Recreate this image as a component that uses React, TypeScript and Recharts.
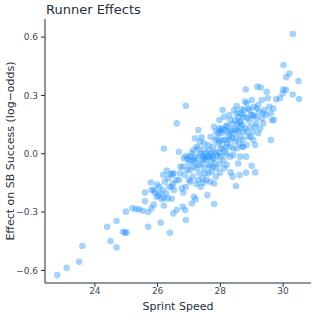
import { Label, Scatter, ScatterChart, XAxis, YAxis } from 'recharts';

// [sprint speed (ft/s), effect on SB success (log-odds)]
const SLOW_RUNNERS: Array<[number, number]> = [
  [22.8, -0.624], [23.1, -0.587], [23.5, -0.556], [23.6, -0.475], [24.39, -0.376], [24.5, -0.449],
  [24.69, -0.346], [24.69, -0.482], [24.9, -0.401], [24.96, -0.406], [25.01, -0.406], [24.99, -0.298],
  [25.2, -0.28], [25.31, -0.286], [25.41, -0.286], [25.52, -0.293], [25.7, -0.376], [25.7, -0.3],
  [25.6, -0.2], [25.6, -0.245], [25.79, -0.148], [25.81, -0.281], [25.88, -0.261], [25.81, -0.187],
  [25.91, -0.199], [25.99, -0.158], [26.02, -0.216], [26.1, -0.355], [26.13, -0.233], [26.2, -0.226],
  [26.2, 0.027], [26.18, -0.11], [26.2, -0.266], [26.29, -0.087], [26.32, -0.23], [26.39, -0.407],
  [26.41, -0.105], [26.45, -0.17], [26.45, -0.232], [26.48, -0.105], [25.97, -0.221], [26.07, -0.204],
  [26.16, -0.187], [26.23, -0.144], [26.34, -0.127], [26.37, -0.17], [26.27, -0.204], [26.05, -0.17],
  [25.88, -0.187],
];

const MID_RUNNERS: Array<[number, number]> = [
  [26.5, -0.307], [26.5, -0.153], [26.52, -0.187], [26.61, -0.29], [26.61, 0.156], [26.68, 0.01],
  [26.68, -0.135], [26.73, -0.067], [26.77, -0.178], [26.8, -0.273], [26.82, -0.201], [26.84, -0.024],
  [26.87, -0.11], [26.88, -0.29], [26.9, -0.341], [26.9, 0.247], [26.9, -0.17], [26.95, -0.081],
  [26.98, -0.05], [27.0, -0.135], [27.03, -0.015], [27.05, -0.144], [27.09, -0.256], [27.12, -0.118],
  [27.14, -0.067], [27.16, -0.221], [27.19, 0.079], [27.19, -0.015], [27.21, -0.235], [27.24, -0.156],
  [27.27, -0.024], [27.3, 0.122], [27.3, 0.027], [27.33, -0.101], [27.35, 0.002], [27.37, -0.17],
  [27.4, -0.05], [27.4, 0.084], [27.44, -0.127], [27.46, -0.015], [27.48, -0.075], [27.51, -0.024],
  [27.54, 0.002], [27.56, -0.135], [27.59, -0.213], [27.62, -0.058], [27.62, 0.045], [27.65, 0.019],
  [27.67, -0.067], [27.69, 0.087], [27.69, 0.002], [27.72, -0.093], [27.76, 0.036], [27.78, -0.024],
  [27.8, 0.139], [27.8, -0.153], [27.8, -0.259], [27.83, 0.07], [27.83, -0.05], [27.86, 0.002],
  [27.88, -0.075], [27.94, 0.053], [27.97, 0.13], [27.99, -0.098], [27.99, 0.002],
  [26.9, -0.012], [26.95, -0.024], [27.05, -0.033], [27.19, -0.046], [27.24, -0.075], [27.33, -0.058],
  [27.44, -0.029], [27.51, -0.101], [27.62, -0.101], [27.67, -0.144], [27.46, -0.149], [27.3, -0.136],
  [27.03, -0.084], [26.8, -0.067], [26.71, -0.101], [26.59, -0.136], [26.5, -0.101],
  [27.4, -0.002], [27.48, 0.022], [27.54, -0.033], [27.59, -0.012], [27.73, -0.012], [27.83, 0.01],
  [27.9, -0.015], [27.94, 0.105], [27.97, 0.173], [27.99, -0.05], [27.86, -0.118], [27.78, -0.067],
  [27.72, -0.033], [27.65, -0.015], [27.48, 0.053], [27.35, 0.062], [27.24, 0.036], [27.14, 0.019],
  [27.09, 0.002], [27.14, -0.033], [27.86, 0.113], [27.9, 0.079], [27.99, 0.062],
];

const FAST_RUNNERS: Array<[number, number]> = [
  [28.01, 0.027], [28.04, 0.105], [28.07, 0.225], [28.1, -0.033], [28.12, 0.19], [28.15, 0.07],
  [28.18, 0.036], [28.2, -0.002], [28.22, 0.142], [28.26, 0.087], [28.29, 0.199], [28.31, 0.036],
  [28.33, -0.096], [28.36, 0.122], [28.39, -0.118], [28.41, -0.007], [28.44, 0.225], [28.47, 0.173],
  [28.5, 0.079], [28.5, -0.166], [28.52, 0.245], [28.54, 0.122], [28.57, -0.05], [28.61, 0.165],
  [28.61, -0.11], [28.63, 0.208], [28.65, 0.087], [28.68, 0.036], [28.71, 0.148], [28.73, 0.113],
  [28.77, 0.19], [28.79, 0.268], [28.81, 0.331], [28.82, -0.098], [28.84, 0.045], [28.86, 0.182],
  [28.89, 0.087], [28.93, 0.225], [28.95, 0.139],
  [28.01, -0.015], [28.04, 0.13], [28.12, 0.122], [28.18, 0.142], [28.22, 0.113], [28.29, 0.07],
  [28.36, 0.084], [28.41, 0.101], [28.52, 0.208], [28.54, 0.153], [28.57, 0.187], [28.65, 0.165],
  [28.71, 0.199], [28.76, 0.225], [28.84, 0.259], [28.89, 0.233], [28.97, 0.199],
  [28.01, 0.118], [28.07, 0.07], [28.31, 0.173], [28.39, 0.153], [28.47, 0.125], [28.57, 0.113],
  [28.63, 0.139], [28.68, 0.228], [28.79, 0.13], [28.86, 0.113], [28.97, 0.087], [28.31, -0.015],
  [28.41, 0.027], [28.52, 0.027], [28.63, -0.015], [28.71, 0.07], [28.82, -0.015], [28.2, -0.058],
  [28.12, -0.075], [28.07, 0.027], [28.15, 0.01], [28.22, 0.053], [28.31, 0.113], [28.47, 0.062],
  [28.61, 0.053], [28.73, 0.036], [28.93, 0.17],
];

const ELITE_RUNNERS: Array<[number, number]> = [
  [29.0, 0.276], [29.0, -0.062], [29.03, 0.199], [29.05, 0.07], [29.11, -0.096], [29.11, 0.045],
  [29.14, 0.156], [29.18, 0.345], [29.21, 0.105], [29.24, 0.216], [29.29, 0.341], [29.32, 0.276],
  [29.32, 0.182], [29.37, 0.156], [29.4, 0.225], [29.48, 0.319], [29.51, 0.285], [29.56, 0.242],
  [29.61, 0.07], [29.61, 0.208], [29.64, 0.173], [29.69, 0.233], [29.71, 0.173], [29.78, 0.28],
  [29.9, 0.285], [29.99, 0.31], [30.01, 0.456], [30.01, 0.331], [30.09, 0.328], [30.1, 0.393],
  [30.2, 0.413], [30.31, 0.616], [30.31, 0.305], [30.49, 0.374], [30.51, 0.281],
  [29.07, 0.242], [29.16, 0.233], [29.21, 0.25], [29.37, 0.208], [29.46, 0.199], [29.03, 0.113],
  [29.11, 0.139], [29.16, 0.187], [29.27, 0.13], [29.07, 0.194],
];

const X_TICKS = [24, 26, 28, 30];
const Y_TICKS = [-0.6, -0.3, 0, 0.3, 0.6];

const FONT = '"DejaVu Sans", sans-serif';
const INK = '#1f2f3c';
const TICK_INK = '#3d4b57';

const points = [...SLOW_RUNNERS, ...MID_RUNNERS, ...FAST_RUNNERS, ...ELITE_RUNNERS].map(([speed, effect]) => ({
  speed,
  effect,
}));

const fmtY = (v: number) => (v < 0 ? `\u2212${Math.abs(v).toFixed(1)}` : v.toFixed(1));

const Dot = (props: any) => (
  <circle cx={props.cx} cy={props.cy} r={3.3} fill="#1E90FF" fillOpacity={0.4} />
);

export default function App() {
  return (
    <div style={{ position: 'absolute', left: 0, top: 0, width: 317, height: 317, background: '#fff' }}>
      <div
        style={{
          position: 'absolute',
          left: 46,
          top: 1,
          fontFamily: FONT,
          fontSize: 13,
          color: INK,
          lineHeight: '18px',
        }}
      >
        Runner Effects
      </div>
      <ScatterChart width={317} height={317} margin={{ top: 19, right: 6, bottom: 0, left: 0 }}>
        <XAxis
          type="number"
          dataKey="speed"
          domain={[22.41, 30.89]}
          ticks={X_TICKS}
          allowDataOverflow
          height={34}
          stroke={INK}
          tickSize={4}
          tickMargin={1}
          tick={{ fill: TICK_INK, fontSize: 9, fontFamily: FONT }}
        >
          <Label
            value="Sprint Speed"
            position="insideBottom"
            offset={7}
            style={{ fill: INK, fontSize: 11, fontFamily: FONT }}
          />
        </XAxis>
        <YAxis
          type="number"
          dataKey="effect"
          domain={[-0.665, 0.693]}
          ticks={Y_TICKS}
          allowDataOverflow
          width={45}
          stroke={INK}
          tickSize={4}
          tickMargin={3}
          tickFormatter={fmtY}
          tick={{ fill: TICK_INK, fontSize: 9, fontFamily: FONT }}
        >
          <Label
            content={({ viewBox }: any) => {
              const cy = viewBox.y + viewBox.height / 2;
              return (
                <text
                  x={10}
                  y={cy}
                  transform={`rotate(-90, 10, ${cy})`}
                  textAnchor="middle"
                  dominantBaseline="central"
                  fill={INK}
                  fontSize={11}
                  fontFamily={FONT}
                >
                  Effect on SB Success (log{'\u2212'}odds)
                </text>
              );
            }}
          />
        </YAxis>
        <Scatter data={points} shape={Dot} isAnimationActive={false} />
      </ScatterChart>
    </div>
  );
}
